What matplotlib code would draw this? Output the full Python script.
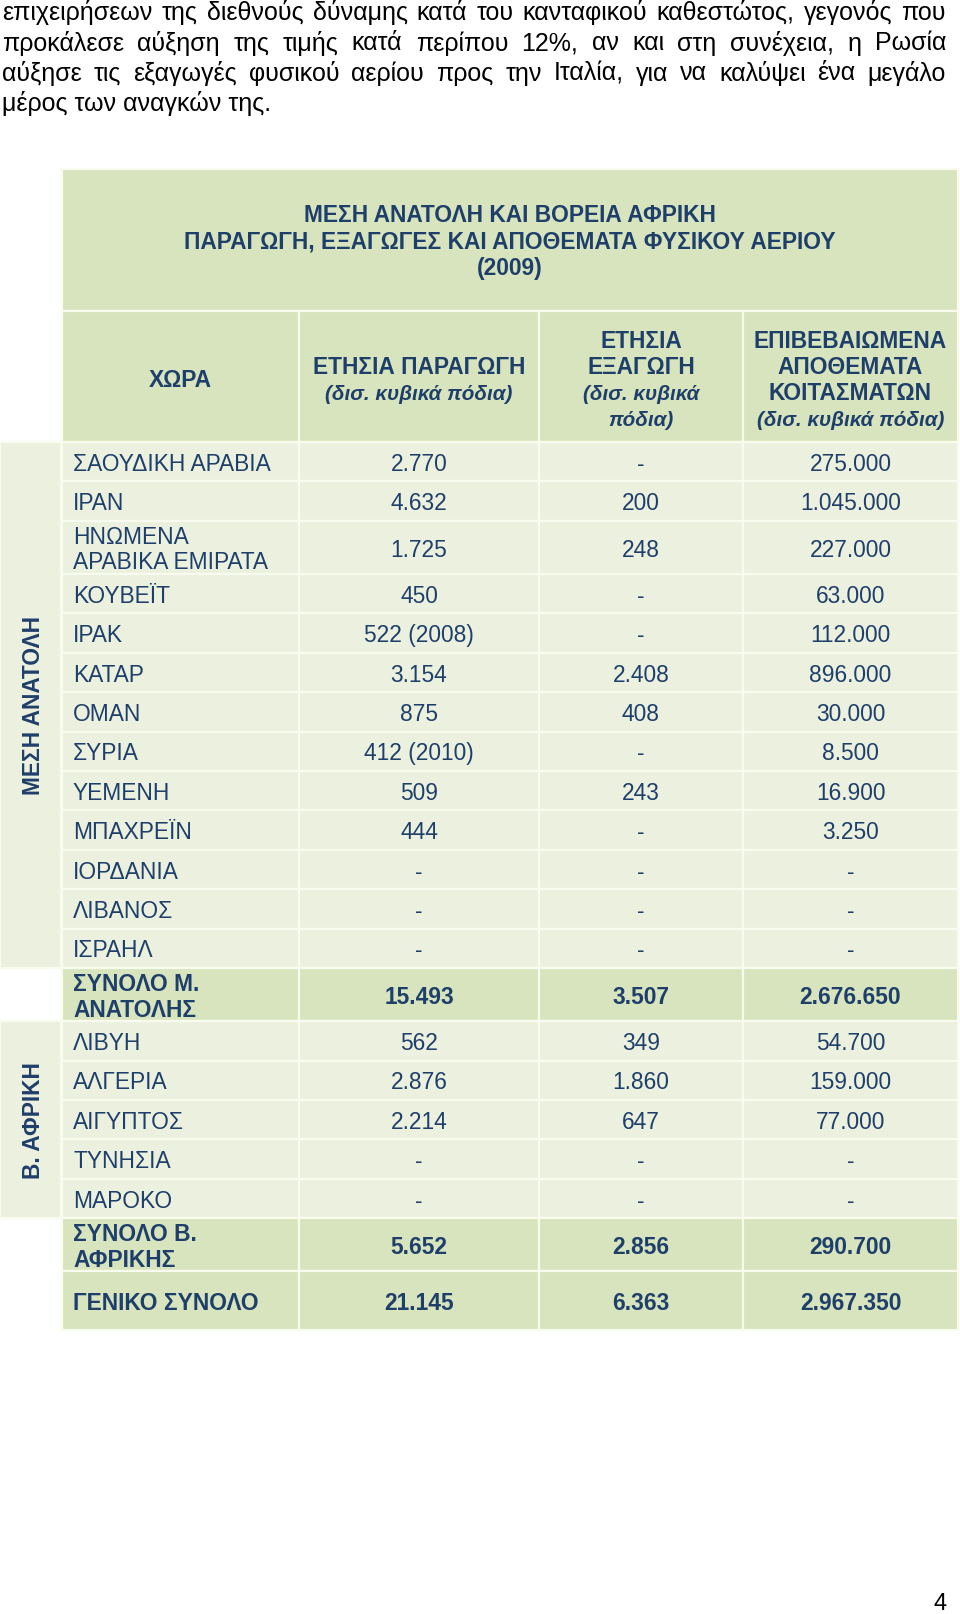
import matplotlib
matplotlib.use("Agg")
import matplotlib.pyplot as plt
from matplotlib.patches import Rectangle

plt.rcParams['font.family'] = ['Liberation Sans', 'DejaVu Sans']

# ---------------- data ----------------
paragraph_lines = [
    "επιχειρήσεων της διεθνούς δύναμης κατά του κανταφικού καθεστώτος, γεγονός που",
    "προκάλεσε αύξηση της τιμής κατά περίπου 12%, αν και στη συνέχεια, η Ρωσία",
    "αύξησε τις εξαγωγές φυσικού αερίου προς την Ιταλία, για να καλύψει ένα μεγάλο",
    "μέρος των αναγκών της.",
]
title_lines = ["ΜΕΣΗ ΑΝΑΤΟΛΗ ΚΑΙ ΒΟΡΕΙΑ ΑΦΡΙΚΗ",
               "ΠΑΡΑΓΩΓΗ, ΕΞΑΓΩΓΕΣ ΚΑΙ ΑΠΟΘΕΜΑΤΑ ΦΥΣΙΚΟΥ ΑΕΡΙΟΥ",
               "(2009)"]
col_headers = [
    [("ΧΩΡΑ", False)],
    [("ΕΤΗΣΙΑ ΠΑΡΑΓΩΓΗ", False), ("(δισ. κυβικά πόδια)", True)],
    [("ΕΤΗΣΙΑ", False), ("ΕΞΑΓΩΓΗ", False), ("(δισ. κυβικά", True), ("πόδια)", True)],
    [("ΕΠΙΒΕΒΑΙΩΜΕΝΑ", False), ("ΑΠΟΘΕΜΑΤΑ", False), ("ΚΟΙΤΑΣΜΑΤΩΝ", False),
     ("(δισ. κυβικά πόδια)", True)],
]

me_countries = ["ΣΑΟΥΔΙΚΗ ΑΡΑΒΙΑ", "ΙΡΑΝ", "ΗΝΩΜΕΝΑ\nΑΡΑΒΙΚΑ ΕΜΙΡΑΤΑ", "ΚΟΥΒΕΪΤ", "ΙΡΑΚ",
                "ΚΑΤΑΡ", "ΟΜΑΝ", "ΣΥΡΙΑ", "ΥΕΜΕΝΗ", "ΜΠΑΧΡΕΪΝ", "ΙΟΡΔΑΝΙΑ", "ΛΙΒΑΝΟΣ", "ΙΣΡΑΗΛ"]
me_production = ["2.770", "4.632", "1.725", "450", "522 (2008)", "3.154", "875",
                 "412 (2010)", "509", "444", "-", "-", "-"]
me_exports = ["-", "200", "248", "-", "-", "2.408", "408", "-", "243", "-", "-", "-", "-"]
me_reserves = ["275.000", "1.045.000", "227.000", "63.000", "112.000", "896.000", "30.000",
               "8.500", "16.900", "3.250", "-", "-", "-"]
me_total = ["ΣΥΝΟΛΟ Μ.\nΑΝΑΤΟΛΗΣ", "15.493", "3.507", "2.676.650"]

af_countries = ["ΛΙΒΥΗ", "ΑΛΓΕΡΙΑ", "ΑΙΓΥΠΤΟΣ", "ΤΥΝΗΣΙΑ", "ΜΑΡΟΚΟ"]
af_production = ["562", "2.876", "2.214", "-", "-"]
af_exports = ["349", "1.860", "647", "-", "-"]
af_reserves = ["54.700", "159.000", "77.000", "-", "-"]
af_total = ["ΣΥΝΟΛΟ Β.\nΑΦΡΙΚΗΣ", "5.652", "2.856", "290.700"]

grand_total = ["ΓΕΝΙΚΟ ΣΥΝΟΛΟ", "21.145", "6.363", "2.967.350"]
region_labels = ["ΜΕΣΗ ΑΝΑΤΟΛΗ", "Β. ΑΦΡΙΚΗ"]
page_number = "4"

# ---------------- style ----------------
DARK = "#D7E4BD"
LIGHT = "#EBF1DE"
EDGE = "#F7FCEF"
TXT = "#1F3F6B"
FS = 16.4
FS_IT = 14.9
PX = FS * 100 / 72.0          # em size in pixels
CAP_HALF = 0.716 * PX / 2      # half cap height (Arial metrics)

fig = plt.figure(figsize=(9.6, 16.15), dpi=100)
ax = fig.add_axes([0, 0, 1, 1])
ax.set_xlim(0, 960)
ax.set_ylim(1615, 0)
ax.axis('off')

renderer = fig.canvas.get_renderer()


def text_width(s, **kw):
    t = ax.text(0, 0, s, **kw)
    bb = t.get_window_extent(renderer=renderer)
    t.remove()
    return bb.width


def cell(x0, y0, x1, y1, color):
    ax.add_patch(Rectangle((x0, y0), x1 - x0, y1 - y0, facecolor=color,
                           edgecolor=EDGE, linewidth=1.6))


def ctext(x, yc, s, ha="center", fs=FS, **kw):
    """Text whose capital letters are vertically centred on yc."""
    ax.text(x, yc + CAP_HALF, s, fontsize=fs, color=TXT, ha=ha, va="baseline", **kw)


# ---------------- paragraph (justified) ----------------
PFS = 18
left, right = 2, 946
baselines = [20, 50.5, 80.5, 110.5]
for i, line in enumerate(paragraph_lines):
    words = line.split(" ")
    if i < len(paragraph_lines) - 1:
        widths = [text_width(w, fontsize=PFS) for w in words]
        gap = (right - left - sum(widths)) / (len(words) - 1)
        x = left
        for w, wd in zip(words, widths):
            ax.text(x, baselines[i], w, fontsize=PFS, color="black", va="baseline", ha="left")
            x += wd + gap
    else:
        ax.text(left, baselines[i], line, fontsize=PFS, color="black", va="baseline", ha="left")

# ---------------- table geometry ----------------
cols = [62, 299, 539, 743, 958]
col_centers = [(cols[i] + cols[i + 1]) / 2 for i in range(4)]
TOP = 170
TITLE_BOTTOM = 312
HEAD_BOTTOM = 443

# title
cell(cols[0], TOP, cols[-1], TITLE_BOTTOM, DARK)
for y, s in zip([214, 240.5, 267], title_lines):
    ctext((cols[0] + cols[-1]) / 2, y, s, fontweight="bold")

# column header row
LS = 26
for ci in range(4):
    cell(cols[ci], TITLE_BOTTOM, cols[ci + 1], HEAD_BOTTOM, DARK)
    lines = col_headers[ci]
    yc = (TITLE_BOTTOM + HEAD_BOTTOM) / 2 + 1.8
    n = len(lines)
    for k, (s, it) in enumerate(lines):
        y = yc + (k - (n - 1) / 2) * LS
        ctext(col_centers[ci], y, s, fs=FS_IT if it else FS, fontweight="bold",
              fontstyle="italic" if it else "normal")

ROW_H1 = 39.4
ROW_H2 = 53.2
GRAND_H = 59


def draw_row(y0, vals, bold, color, h=None):
    name = vals[0]
    nlines = name.count("\n") + 1
    if h is None:
        h = ROW_H1 if nlines == 1 else ROW_H2
    y1 = y0 + h
    yc = (y0 + y1) / 2
    for ci in range(4):
        cell(cols[ci], y0, cols[ci + 1], y1, color)
    fw = "bold" if bold else "normal"
    parts = name.split("\n")
    for k, p in enumerate(parts):
        y = yc + (k - (len(parts) - 1) / 2) * 25.8
        ctext(cols[0] + 11, y, p, ha="left", fontweight=fw)
    for ci in range(1, 4):
        ctext(col_centers[ci], yc, vals[ci], fontweight=fw)
    return y1


y = HEAD_BOTTOM
me_start = y
for r in range(len(me_countries)):
    y = draw_row(y, [me_countries[r], me_production[r], me_exports[r], me_reserves[r]],
                 False, LIGHT)
me_end = y
y = draw_row(y, me_total, True, DARK)
af_start = y
for r in range(len(af_countries)):
    y = draw_row(y, [af_countries[r], af_production[r], af_exports[r], af_reserves[r]],
                 False, LIGHT)
af_end = y
y = draw_row(y, af_total, True, DARK)
y = draw_row(y, grand_total, True, DARK, h=GRAND_H)

# region label cells
for (ys, ye), lab in zip([(me_start, me_end), (af_start, af_end)], region_labels):
    cell(0, ys, 61, ye, LIGHT)
    ax.text(31.4 + CAP_HALF, (ys + ye) / 2, lab, fontsize=FS, fontweight="bold", color=TXT,
            rotation=90, rotation_mode="anchor", ha="center", va="baseline")

# page number
ax.text(940, 1604, page_number, fontsize=17, color="black", ha="center", va="center")

fig.savefig("out.png", dpi=100, facecolor="white")
